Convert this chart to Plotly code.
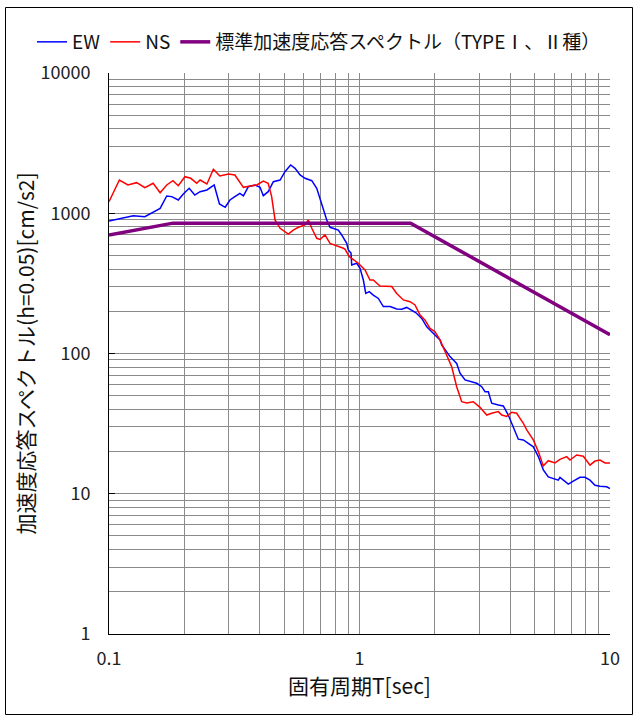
import plotly.graph_objects as go

# 固有周期 T [sec] と加速度応答スペクトル [cm/s2]
ew_period = [0.100, 0.111, 0.125, 0.139, 0.150, 0.160, 0.170, 0.178, 0.189, 0.198,
             0.209, 0.220, 0.231, 0.246, 0.263, 0.276, 0.291, 0.304, 0.318, 0.333,
             0.344, 0.360, 0.383, 0.401, 0.413, 0.432, 0.453, 0.482, 0.504, 0.531,
             0.553, 0.579, 0.606, 0.645, 0.675, 0.707, 0.740, 0.763, 0.799, 0.823,
             0.849, 0.889, 0.902, 0.925, 0.931, 0.975, 1.005, 1.036, 1.059, 1.094,
             1.135, 1.189, 1.245, 1.324, 1.408, 1.474, 1.543, 1.616, 1.681, 1.772,
             1.856, 1.942, 2.034, 2.096, 2.129, 2.195, 2.298, 2.443, 2.519, 2.638,
             2.761, 2.937, 3.075, 3.170, 3.268, 3.371, 3.582, 3.751, 3.926, 4.112,
             4.304, 4.508, 4.720, 4.942, 5.174, 5.417, 5.671, 5.938, 6.216, 6.314,
             6.612, 6.815, 7.136, 7.589, 7.947, 8.321, 8.712, 9.122, 9.701, 10.0]
ew_accel = [881, 920, 961, 945, 1025, 1084, 1328, 1314, 1243, 1372,
            1506, 1349, 1425, 1465, 1590, 1164, 1103, 1243, 1314, 1387,
            1328, 1546, 1590, 1531, 1334, 1425, 1678, 1726, 1978, 2208,
            2092, 1874, 1775, 1706, 1506, 1178, 896, 794, 772, 759,
            700, 610, 547, 520, 428, 440, 405, 334, 268, 276,
            261, 247, 216, 216, 208, 207, 213, 204, 195, 178,
            155, 143, 132, 125, 115, 106, 95, 85, 72.3, 64.8,
            63, 61.3, 58, 53.4, 53.4, 44.2, 43, 42.3, 36.4, 29.8,
            24.5, 24.2, 22.9, 21.6, 18.4, 14.8, 13.2, 12.8, 12.5, 13.1,
            12.2, 11.7, 12.3, 13.1, 13.1, 12.5, 11.5, 11.3, 11.2, 10.9]

ns_period = [0.100, 0.110, 0.119, 0.129, 0.139, 0.150, 0.160, 0.170, 0.180, 0.189,
             0.201, 0.212, 0.224, 0.231, 0.246, 0.261, 0.277, 0.291, 0.300, 0.318,
             0.328, 0.344, 0.366, 0.389, 0.413, 0.432, 0.446, 0.453, 0.460, 0.482,
             0.520, 0.544, 0.570, 0.606, 0.625, 0.645, 0.675, 0.696, 0.728, 0.763,
             0.799, 0.836, 0.862, 0.876, 0.911, 0.989, 1.052, 1.101, 1.135, 1.207,
             1.345, 1.408, 1.496, 1.591, 1.666, 1.745, 1.827, 1.912, 2.002, 2.096,
             2.195, 2.263, 2.334, 2.443, 2.559, 2.679, 2.847, 3.027, 3.220, 3.371,
             3.582, 3.696, 3.869, 4.052, 4.242, 4.373, 4.508, 4.651, 4.794, 4.942,
             5.174, 5.417, 5.671, 6.030, 6.314, 6.715, 6.922, 7.363, 7.823, 8.321,
             8.712, 9.122, 9.550, 10.0]
ns_accel = [1209, 1726, 1590, 1652, 1521, 1635, 1401, 1590, 1706, 1571,
            1822, 1775, 1635, 1726, 1617, 2057, 1843, 1874, 1905, 1874,
            1726, 1531, 1564, 1590, 1697, 1635, 1314, 1055, 896, 781,
            711, 759, 794, 825, 896, 781, 663, 650, 700, 610,
            594, 578, 563, 553, 490, 440, 394, 334, 334, 303,
            300, 268, 241, 234, 222, 188, 173, 151, 143, 125,
            103, 92, 80.5, 58, 45.3, 44.4, 45.3, 41.3, 36.4, 37.5,
            38.5, 36.4, 35.6, 38.1, 37.5, 34.5, 31.8, 28.5, 26, 24.2,
            20, 15.8, 17.2, 16.6, 17.6, 18.4, 17.4, 18.9, 18.5, 16.0,
            17.1, 17.4, 16.6, 16.6]

# 標準加速度応答スペクトル（折れ点）
std_period = [0.1, 0.18, 1.6, 10.0]
std_accel = [700, 850, 850, 136]

x_tick_vals = [0.1, 1, 10]
x_tick_text = ["0.1", "1", "10"]
y_tick_vals = [1, 10, 100, 1000, 10000]
y_tick_text = ["1", "10", "100", "1000", "10000"]
y_major_grid = [10, 100, 1000]

W, H = 638, 715
ML, MR, MT, MB = 109, 28, 73, 81
PW, PH = W - ML - MR, H - MT - MB

JP = "Noto Sans CJK JP, sans-serif"
GRID = "#8a8a8a"

fig = go.Figure()
fig.add_trace(go.Scatter(x=ew_period, y=ew_accel, mode="lines", name="EW",
                         line=dict(color="#0000ff", width=1.5)))
fig.add_trace(go.Scatter(x=ns_period, y=ns_accel, mode="lines", name="NS",
                         line=dict(color="#ff0000", width=1.5)))
fig.add_trace(go.Scatter(x=std_period, y=std_accel, mode="lines",
                         name="標準加速度応答スペクトル（TYPEⅠ、Ⅱ種）",
                         line=dict(color="#800080", width=3.5)))


def px_x(p):
    return (p - ML) / PW


def px_y(p):
    return (H - MB - p) / PH


fig.update_layout(
    width=W, height=H,
    margin=dict(l=ML, r=MR, t=MT, b=MB),
    paper_bgcolor="white", plot_bgcolor="white",
    font=dict(family=JP, color="#222", size=18),
    showlegend=True,
    legend=dict(orientation="h", x=px_x(32), xanchor="left",
                y=px_y(42), yanchor="middle",
                font=dict(size=19, color="#111"),
                bgcolor="rgba(0,0,0,0)", itemwidth=30, tracegroupgap=0),
    xaxis=dict(type="log", range=[-1, 1],
               tickvals=x_tick_vals, ticktext=x_tick_text,
               showgrid=True, gridcolor=GRID, gridwidth=1,
               minor=dict(dtick="D1", showgrid=True, gridcolor=GRID, gridwidth=1),
               showline=True, linecolor="black", linewidth=1,
               ticks="", ticklabelstandoff=8,
               zeroline=False,
               title=dict(text="固有周期T[sec]", font=dict(size=21, color="#111"),
                          standoff=6)),
    yaxis=dict(type="log", range=[0, 4],
               tickvals=y_tick_vals, ticktext=y_tick_text,
               showgrid=False,
               minor=dict(dtick="D1", showgrid=True, gridcolor=GRID, gridwidth=1),
               showline=True, linecolor="black", linewidth=1,
               ticks="inside", ticklen=6, tickcolor="black",
               ticklabelstandoff=14, zeroline=False,
               title=dict(text="加速度応答スペクトル(h=0.05)[cm/s2]",
                          font=dict(size=21, color="#111"), standoff=0)),
    yaxis2=dict(type="log", range=[0, 4], overlaying="y", side="left",
                tickvals=y_major_grid, showticklabels=False,
                showgrid=True, gridcolor="black", gridwidth=1,
                showline=False, zeroline=False, ticks=""),
    shapes=[dict(type="rect", xref="paper", yref="paper",
                 x0=px_x(5.5), x1=px_x(632.5), y0=px_y(714.5), y1=px_y(7.5),
                 line=dict(color="black", width=1), fillcolor="rgba(0,0,0,0)",
                 layer="below")],
)

fig.write_html("out.html")
